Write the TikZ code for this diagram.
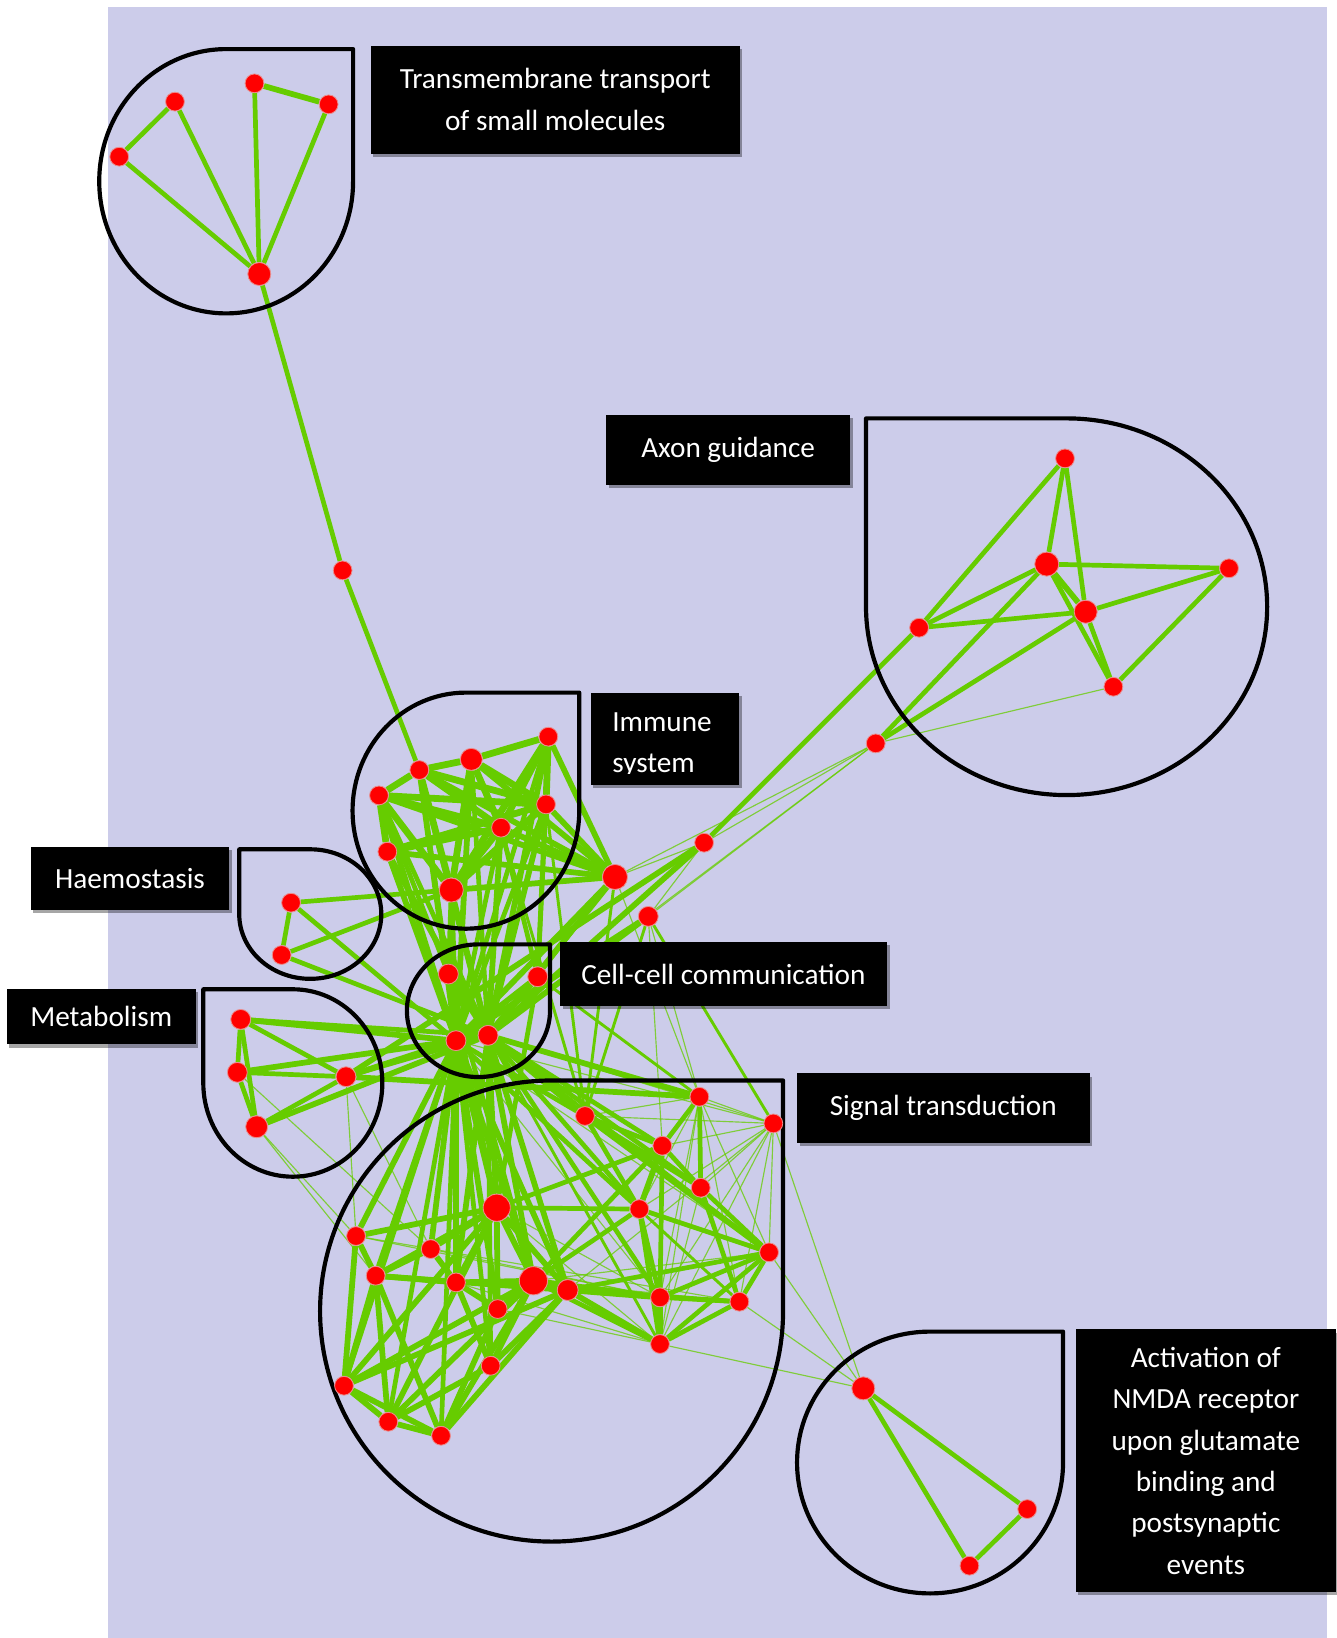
\documentclass[tikz,border=0pt]{standalone}
\usepackage{fontspec}
\setmainfont{Carlito}
\usetikzlibrary{shadows}
\definecolor{lav}{RGB}{204,204,234}
\definecolor{edgegreen}{RGB}{102,204,0}
\definecolor{noderim}{RGB}{235,140,140}
\newcommand\lblfont{\fontsize{28}{40}\selectfont}
\pgfdeclarelayer{bg}
\pgfdeclarelayer{edges}
\pgfdeclarelayer{groups}
\pgfdeclarelayer{front}
\pgfsetlayers{bg,edges,groups,main,front}
% group outline: circle with its upper-right quarter squared off
\newcommand\cornerTR[4]{%
  \pgfmathsetmacro\gL{#1-#3}\pgfmathsetmacro\gR{#1+#3}\pgfmathsetmacro\gT{#2-#4}%
  \draw[grp] (\gL,#2) arc[start angle=180,end angle=0,x radius=#3,y radius=#4]
    -- (\gR,\gT) -- (#1,\gT) arc[start angle=270,end angle=180,x radius=#3,y radius=#4] -- cycle;}
% group outline: circle with its upper-left quarter squared off
\newcommand\cornerTL[4]{%
  \pgfmathsetmacro\gL{#1-#3}\pgfmathsetmacro\gT{#2-#4}%
  \draw[grp] (\gL,\gT) -- (#1,\gT) arc[start angle=270,end angle=540,x radius=#3,y radius=#4] -- cycle;}
\tikzset{
  nd/.style={circle,fill=red,draw=noderim,line width=0.8pt,inner sep=0pt,minimum size=18pt},
  grp/.style={draw=black,line width=4pt,line join=round},
  e1/.style={draw=edgegreen,line width=1.1pt,draw opacity=0.75},
  e2/.style={draw=edgegreen,line width=2.8pt},
  e3/.style={draw=edgegreen,line width=4.5pt},
  e4/.style={draw=edgegreen,line width=5.5pt},
  e5/.style={draw=edgegreen,line width=6.5pt},
  lbl/.style={fill=black,text=white,inner sep=0pt,align=center,font=\lblfont,
    drop shadow={shadow xshift=2.5pt,shadow yshift=-3pt,opacity=0.35,fill=black}},
}
\begin{document}
\begin{tikzpicture}[x=1pt,y=-1pt]
\useasboundingbox (0,0) rectangle (1279,1568);
\begin{pgfonlayer}{bg}
  \fill[white] (0,0) rectangle (1279,1568);
  \fill[lav] (103.7,6.4) rectangle (1270.5,1568);
\end{pgfonlayer}

% ---------- nodes ----------
% transmembrane transport
\node[nd] (a1) at (167.5,97.3) {};
\node[nd] (a2) at (243.6,79.8) {};
\node[nd] (a3) at (314.6,99.9) {};
\node[nd] (a4) at (114.1,150) {};
\node[nd,minimum size=22pt] (a5) at (248.2,262.3) {};
\node[nd] (b1) at (328,546) {};
% axon guidance
\node[nd] (x1) at (1019.5,438.8) {};
\node[nd,minimum size=23pt] (x2) at (1002,540) {};
\node[nd] (x3) at (1176.5,544) {};
\node[nd,minimum size=22pt] (x4) at (1039.3,585.6) {};
\node[nd] (x5) at (879.8,600.9) {};
\node[nd] (x6) at (1065.8,657.4) {};
\node[nd] (x7) at (838.3,711.6) {};
\node[nd] (p1) at (674,806.7) {};
% immune system
\node[nd] (i1) at (401.4,737.1) {};
\node[nd,minimum size=21pt] (i2) at (451.2,726.9) {};
\node[nd] (i3) at (524.9,705.2) {};
\node[nd] (i4) at (362.8,761.4) {};
\node[nd] (i5) at (522.7,770) {};
\node[nd] (i6) at (479.6,792.3) {};
\node[nd] (i7) at (370.8,815.3) {};
\node[nd,minimum size=23pt] (i8) at (432,852) {};
\node[nd,minimum size=24pt] (i9) at (588.7,839.5) {};
\node[nd,minimum size=19pt] (i10) at (620.6,877.2) {};
% haemostasis
\node[nd] (h1) at (278.6,864.1) {};
\node[nd] (h2) at (269.6,914.2) {};
% cell-cell communication
\node[nd,minimum size=19pt] (c1) at (429.2,932.4) {};
\node[nd,minimum size=19pt] (c2) at (514.7,935) {};
\node[nd,minimum size=19pt] (c3) at (436.5,996.2) {};
\node[nd,minimum size=19pt] (c4) at (467.2,991.1) {};
% metabolism
\node[nd,minimum size=19pt] (m1) at (230.4,975.8) {};
\node[nd,minimum size=19pt] (m2) at (227.2,1026.5) {};
\node[nd,minimum size=19pt] (m3) at (331.2,1030.7) {};
\node[nd,minimum size=21pt] (m4) at (245.7,1078.6) {};
% signal transduction
\node[nd] (s1) at (669.5,1049.9) {};
\node[nd] (s2) at (740.3,1075.4) {};
\node[nd] (s3) at (560,1068.3) {};
\node[nd] (s4) at (634,1096.8) {};
\node[nd] (s5) at (670.8,1137) {};
\node[nd] (s6) at (612,1157.4) {};
\node[nd,minimum size=26pt] (s7) at (475.5,1156.1) {};
\node[nd] (s8) at (340.8,1183.2) {};
\node[nd] (s9) at (412.3,1195.7) {};
\node[nd] (s10) at (736.2,1198.8) {};
\node[nd] (s11) at (359.6,1221.2) {};
\node[nd] (s12) at (436.5,1227.6) {};
\node[nd,minimum size=27pt] (s13) at (510.6,1226) {};
\node[nd,minimum size=20pt] (s14) at (543.4,1234.9) {};
\node[nd] (s15) at (476.4,1253.1) {};
\node[nd] (s16) at (631.8,1241.9) {};
\node[nd] (s17) at (707.8,1246.1) {};
\node[nd] (s18) at (631.8,1286.6) {};
\node[nd] (s19) at (469.7,1307.4) {};
\node[nd] (s20) at (329.3,1326.5) {};
\node[nd] (s21) at (371.7,1361) {};
\node[nd] (s22) at (422.2,1374.4) {};
% NMDA receptor activation
\node[nd,minimum size=22pt] (n1) at (826.4,1329) {};
\node[nd] (n2) at (983.3,1444.6) {};
\node[nd] (n3) at (928,1498.8) {};

% ---------- connectors ----------
\begin{pgfonlayer}{edges}
\foreach \u/\v in {s1/s2,s2/s4,s2/s6,s2/s5,s2/s16,s2/s17,s2/s18,s2/s10,s1/s16,s1/s18,
  s1/s6,s1/s10,s3/s2,s5/s18,s1/s17,s13/s10,s13/s17,s14/s2,s7/s16,s7/s18,s12/s18,
  s12/s16,s15/s18,s9/s16,s8/s16,s8/s17,s3/s1,n1/s2,n1/s10,n1/s17,n1/s18,
  x6/x7,x7/p1,x7/i9,x7/i10,x7/c4,p1/i9,p1/i10,i9/s1,i10/s1,i10/s4,
  m3/s8,m3/s9,m4/s11,c3/s2,c4/s2,c3/s10,c3/s16,m4/s8,m2/s9}
  \draw[e1] (\u) -- (\v);
\foreach \u/\v in {i9/s3,i10/s3,i6/s3,i5/s3,i10/s2,c2/i9,c2/s1,c4/s18,c3/s17,c4/s10}
  \draw[e2] (\u) -- (\v);
\foreach \u/\v in {a4/a1,a4/a5,a1/a5,a2/a5,a3/a5,a5/b1,b1/i1,
  x1/x5,x1/x2,x1/x4,x2/x3,x2/x5,x2/x6,x2/x7,x3/x4,x3/x6,x4/x5,x4/x6,x4/x7,x5/p1,
  i4/c4,i2/c4,i6/c3,i3/c3,i5/c3,
  h1/h2,h1/i9,h1/c3,h2/i8,h2/c4,
  c1/i1,c1/i4,c1/i8,c2/i3,c2/i5,c2/i6,c1/s7,c2/s7,c1/s13,
  m1/m2,m1/m4,m2/m4,m1/m3,m2/m3,m4/m3,m3/c4,m1/c4,
  c3/s3,c4/s4,c4/s5,c3/s6,c4/s6,c3/s20,c3/s21,c3/s22,c4/s19,c4/s16,c3/s19,
  s16/s17,s17/s10,s16/s10,s6/s16,s6/s18,s6/s10,s5/s10,s5/s17,s4/s16,s3/s4,s1/s4,
  s4/s5,s14/s10,s14/s17,s3/s5,s18/s17,s18/s10,s6/s13,s4/s13,s3/s6,s1/s5,s7/s6,
  s7/s4,s13/s18,n1/n2,n1/n3,n2/n3}
  \draw[e3] (\u) -- (\v);
\foreach \u/\v in {a2/a3,x2/x4,p1/m3,p1/c4,
  i3/i9,i5/i9,i6/i9,i2/i9,i4/i9,i1/i9,i7/i9,i8/i9,
  i1/c3,i4/c3,i7/c3,i8/c3,i8/c4,i6/c4,i5/c4,i3/c4,i2/c3,i1/c4,i7/c4,i9/c4,i9/c3,
  i10/c4,i10/c3,
  c1/c3,c1/c4,c2/c3,c2/c4,c3/c4,
  m1/c3,m2/c3,m3/c3,m4/c4,m3/s1,
  c3/s7,c4/s7,c3/s13,c4/s13,c3/s9,c3/s8,c3/s11,c3/s12,c4/s12,c3/s15,c4/s14,c3/s14,
  c4/s3,c4/s1,
  s8/s11,s8/s20,s11/s20,s11/s21,s11/s22,s20/s21,s21/s22,s20/s22,s9/s11,s9/s12,
  s9/s7,s11/s12,s12/s13,s7/s13,s7/s12,s7/s15,s13/s15,s13/s14,s7/s14,s12/s15,
  s19/s13,s19/s14,s20/s14,s20/s13,s21/s13,s22/s14,s22/s13,s21/s7,s8/s7,s20/s7,
  s11/s14,s15/s22,s19/s12,s21/s19,s11/s7,s14/s16,s16/s18,s14/s18,s13/s16,s3/s10,s4/s6}
  \draw[e4] (\u) -- (\v);
\foreach \u/\v in {i1/i2,i2/i3,i1/i4,i4/i6,i1/i6,i2/i6,i3/i6,i3/i5,i4/i5,i4/i7,
  i4/i8,i1/i8,i2/i8,i3/i8,i5/i8,i6/i8,i7/i6,i2/i5,i1/i5,i7/i5}
  \draw[e5] (\u) -- (\v);
\end{pgfonlayer}

% ---------- group outlines ----------
\begin{pgfonlayer}{groups}
\cornerTR{216.5}{173.5}{121.5}{126.5}
\cornerTR{446}{776}{108.5}{113}
\cornerTL{297}{875}{68}{62}
\cornerTR{458}{967.5}{68.5}{63.5}
\cornerTL{280.3}{1036.7}{85.7}{89.7}
\cornerTR{528}{1255}{221.6}{220.7}
\cornerTR{890.3}{1400}{127.3}{125.3}
\cornerTL{1021}{580.8}{192}{180.3}
\end{pgfonlayer}

% ---------- labels ----------
\begin{pgfonlayer}{front}
\node[lbl,minimum width=353pt,minimum height=103pt] (ltm) at (531.5,95.5)
  {Transmembrane transport\\of small molecules};
\node[lbl,minimum width=233.7pt,minimum height=67pt] (lax) at (697,430.8) {Axon guidance};
\node[lbl,minimum width=142pt,minimum height=88.5pt] (lim) at (636.5,707.3) {};
\begin{scope}
  \clip (565.5,663) rectangle (707.5,740.5);
  \node[text=white,font=\lblfont,inner sep=0pt,anchor=base west] (lim1) at (586,700) {Immune};
  \node[text=white,font=\lblfont,inner sep=0pt,anchor=base west] (lim2) at (586,739.5) {system};
\end{scope}
\node[lbl,minimum width=190pt,minimum height=60.6pt] (lha) at (124.5,840.8) {Haemostasis};
\node[lbl,minimum width=181pt,minimum height=53pt] (lme) at (96.9,973.3) {Metabolism};
\node[lbl,minimum width=313pt,minimum height=60.7pt] (lcc) at (692.5,932.4) {Cell-cell communication};
\node[lbl,minimum width=280pt,minimum height=66.5pt] (lsi) at (903,1060.8) {Signal transduction};
\node[lbl,minimum width=249.5pt,minimum height=251.4pt,font=\fontsize{28}{39.6}\selectfont]
  (lnm) at (1154.3,1398.3)
  {Activation of\\NMDA receptor\\upon glutamate\\binding and\\postsynaptic\\events};
\end{pgfonlayer}
\end{tikzpicture}
\end{document}
